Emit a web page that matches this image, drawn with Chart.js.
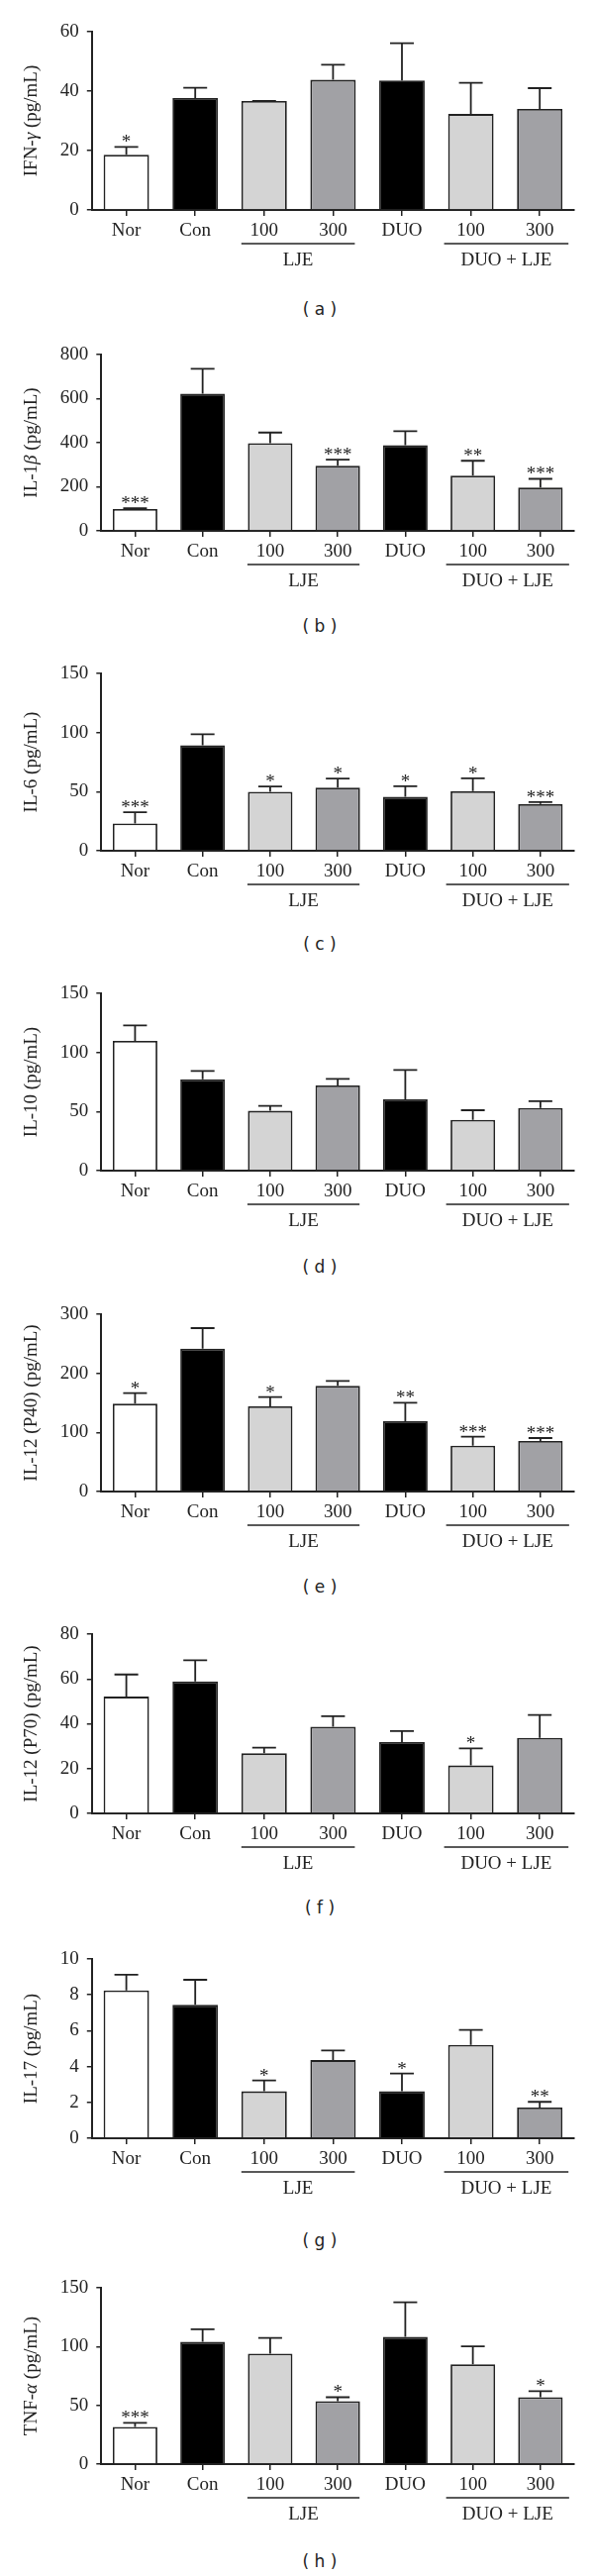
<!DOCTYPE html>
<html>
<head>
<meta charset="utf-8">
<script src="https://cdn.jsdelivr.net/npm/chart.js@4.4.1/dist/chart.umd.min.js"></script>
<style>
    body { margin: 0; background: #fff; }
    #page { position: relative; width: 600px; height: 2601px; background: #fff; overflow: hidden; }
    .panel { position: absolute; left: 0; }
    .caption {
        position: absolute; left: 323px; transform: translateX(-50%);
        font-family: "DejaVu Sans", sans-serif; font-size: 17px; line-height: 20px;
        color: #222; white-space: pre;
    }
</style>
</head>
<body>
<div id="page"></div>
<script>
// categories along the x axis
const categories = ["Nor", "Con", "100", "300", "DUO", "100", "300"]
const groups = [
    { label: "LJE", from: 2, to: 3 },
    { label: "DUO + LJE", from: 5, to: 6 }
]
const barColors = ["#ffffff", "#000000", "#d4d4d4", "#a1a1a5", "#000000", "#d4d4d4", "#a1a1a5"]

// (a) IFN-gamma
const ifnMean = [18.6, 37.7, 36.7, 43.8, 43.6, 32.3, 34.0]
const ifnSd = [2.6, 3.4, 0, 5.1, 12.5, 10.5, 7.0]
const ifnSig = ["*", "", "", "", "", "", ""]

// (b) IL-1beta
const il1bMean = [99, 623, 398, 296, 389, 251, 197]
const il1bSd = [4, 112, 48, 27, 63, 67, 39]
const il1bSig = ["***", "", "", "***", "", "**", "***"]

// (c) IL-6
const il6Mean = [23, 89.3, 49.8, 53.5, 45.6, 50.4, 39.5]
const il6Sd = [9.5, 9.2, 4.5, 7.5, 9.0, 10.9, 1.6]
const il6Sig = ["***", "", "*", "*", "*", "*", "***"]

// (d) IL-10
const il10Mean = [109.8, 77.4, 50.6, 72.1, 60.3, 43.0, 53.1]
const il10Sd = [13.1, 7.0, 4.1, 5.6, 24.9, 8.1, 5.6]
const il10Sig = ["", "", "", "", "", "", ""]

// (e) IL-12 (P40)
const p40Mean = [148.6, 241.9, 144.1, 178.8, 119, 77.7, 85.5]
const p40Sd = [17.9, 34.6, 15.7, 8.4, 31.3, 15.0, 5.0]
const p40Sig = ["*", "", "*", "", "**", "***", "***"]

// (f) IL-12 (P70)
const p70Mean = [52.1, 58.9, 26.8, 38.7, 31.8, 21.4, 33.7]
const p70Sd = [9.9, 9.4, 2.5, 4.7, 4.9, 7.6, 10.2]
const p70Sig = ["", "", "", "", "", "*", ""]

// (g) IL-17
const il17Mean = [8.25, 7.44, 2.62, 4.36, 2.63, 5.21, 1.71]
const il17Sd = [0.87, 1.4, 0.6, 0.54, 0.98, 0.83, 0.32]
const il17Sig = ["", "", "*", "", "*", "", "**"]

// (h) TNF-alpha
const tnfMean = [31.7, 104, 93.9, 53.5, 108.2, 84.9, 56.9]
const tnfSd = [3.3, 10.7, 13.5, 3.4, 29.5, 15.2, 5.1]
const tnfSig = ["***", "", "", "*", "", "", "*"]

const panels = [
    { title: "IFN-γ (pg/mL)", mean: ifnMean, sd: ifnSd, sig: ifnSig, max: 60, step: 20, caption: "( a )" },
    { title: "IL-1β (pg/mL)", mean: il1bMean, sd: il1bSd, sig: il1bSig, max: 800, step: 200, caption: "( b )" },
    { title: "IL-6 (pg/mL)", mean: il6Mean, sd: il6Sd, sig: il6Sig, max: 150, step: 50, caption: "( c )" },
    { title: "IL-10 (pg/mL)", mean: il10Mean, sd: il10Sd, sig: il10Sig, max: 150, step: 50, caption: "( d )" },
    { title: "IL-12 (P40) (pg/mL)", mean: p40Mean, sd: p40Sd, sig: p40Sig, max: 300, step: 100, caption: "( e )" },
    { title: "IL-12 (P70) (pg/mL)", mean: p70Mean, sd: p70Sd, sig: p70Sig, max: 80, step: 20, caption: "( f )" },
    { title: "IL-17 (pg/mL)", mean: il17Mean, sd: il17Sd, sig: il17Sig, max: 10, step: 2, caption: "( g )" },
    { title: "TNF-α (pg/mL)", mean: tnfMean, sd: tnfSd, sig: tnfSig, max: 150, step: 50, caption: "( h )" }
]

// page layout (pixel positions of each panel's top tick, zero line and caption)
const axisTops = [32, 358, 680, 1003, 1327, 1650, 1978, 2310]
const axisZeros = [212, 536, 859, 1182, 1506, 1831, 2159, 2488]
const captionYs = [312, 632, 953, 1279, 1602, 1926, 2262, 2586]

const ink = "#222"
const serif = "'Liberation Serif', 'Times New Roman', serif"
const padTop = 20
const xAxisH = 75
const titlePad = 21
const fontSize = 19

const errorBars = {
    id: "errorBars",
    afterDatasetsDraw(chart, args, opts) {
        const ctx = chart.ctx
        const meta = chart.getDatasetMeta(0)
        const y = chart.scales.y
        ctx.save()
        ctx.strokeStyle = ink
        ctx.lineWidth = 1.8
        ctx.fillStyle = ink
        ctx.font = fontSize + "px " + serif
        ctx.textAlign = "center"
        ctx.textBaseline = "alphabetic"
        opts.mean.forEach((m, i) => {
            const x = meta.data[i].x
            const yTop = y.getPixelForValue(m)
            const yErr = y.getPixelForValue(m + opts.sd[i])
            ctx.beginPath()
            ctx.moveTo(x, yTop)
            ctx.lineTo(x, yErr)
            ctx.moveTo(x - 12, yErr)
            ctx.lineTo(x + 12, yErr)
            ctx.stroke()
            if (opts.sig[i]) ctx.fillText(opts.sig[i], x, yErr + 1)
        })
        ctx.restore()
    }
}

// y title drawn by hand so the greek letter can be italic
const yTitle = {
    id: "yTitle",
    afterDraw(chart, args, opts) {
        const ctx = chart.ctx
        const area = chart.chartArea
        const parts = opts.text.split(/([αβγ])/).filter(s => s.length)
        const fonts = parts.map(s => (/[αβγ]/.test(s) ? "italic " : "") + fontSize + "px " + serif)
        let total = 0
        const widths = parts.map((s, k) => {
            ctx.font = fonts[k]
            const w = ctx.measureText(s).width
            total += w
            return w
        })
        ctx.save()
        ctx.translate(titlePad + fontSize * 0.6, (area.top + area.bottom) / 2)
        ctx.rotate(-Math.PI / 2)
        ctx.fillStyle = ink
        ctx.textBaseline = "middle"
        ctx.textAlign = "left"
        let x = -total / 2
        parts.forEach((s, k) => {
            ctx.font = fonts[k]
            ctx.fillText(s, x, 0)
            x += widths[k]
        })
        ctx.restore()
    }
}

const groupLabels = {
    id: "groupLabels",
    afterDraw(chart) {
        const ctx = chart.ctx
        const x = chart.scales.x
        const base = chart.chartArea.bottom
        ctx.save()
        ctx.strokeStyle = ink
        ctx.lineWidth = 1.5
        ctx.fillStyle = ink
        ctx.font = fontSize + "px " + serif
        ctx.textAlign = "center"
        ctx.textBaseline = "middle"
        groups.forEach((g, k) => {
            const x1 = x.getPixelForValue(g.from) - (k === 0 ? 23 : 27)
            const x2 = x.getPixelForValue(g.to) + (k === 0 ? 22 : 29)
            ctx.beginPath()
            ctx.moveTo(x1, base + 34)
            ctx.lineTo(x2, base + 34)
            ctx.stroke()
            ctx.fillText(g.label, (x1 + x2) / 2, base + 51)
        })
        ctx.restore()
    }
}

const page = document.getElementById("page")

panels.forEach((p, i) => {
    const plotH = axisZeros[i] - axisTops[i]
    const h = padTop + plotH + xAxisH

    const wrap = document.createElement("div")
    wrap.className = "panel"
    wrap.style.top = (axisTops[i] - padTop) + "px"
    const canvas = document.createElement("canvas")
    canvas.width = 600
    canvas.height = h
    wrap.appendChild(canvas)
    page.appendChild(wrap)

    const cap = document.createElement("div")
    cap.className = "caption"
    cap.style.top = (captionYs[i] - 10) + "px"
    cap.textContent = p.caption
    page.appendChild(cap)

    new Chart(canvas, {
        type: "bar",
        data: {
            labels: categories,
            datasets: [{
                data: p.mean,
                backgroundColor: barColors,
                borderColor: ink,
                borderWidth: 1.8,
                categoryPercentage: 1,
                barPercentage: 0.66
            }]
        },
        options: {
            responsive: false,
            animation: false,
            devicePixelRatio: 1,
            layout: { padding: { top: padTop, right: 20, bottom: 0, left: 0 } },
            plugins: {
                legend: { display: false },
                tooltip: { enabled: false },
                errorBars: { mean: p.mean, sd: p.sd, sig: p.sig },
                yTitle: { text: p.title }
            },
            scales: {
                x: {
                    grid: { offset: false, drawOnChartArea: false, tickLength: 6, color: ink, lineWidth: 1.5 },
                    border: { color: ink, width: 2 },
                    ticks: { color: ink, font: { family: serif, size: fontSize }, padding: 4, maxRotation: 0 },
                    afterFit: (scale) => { scale.height = xAxisH }
                },
                y: {
                    min: 0,
                    max: p.max,
                    grid: { drawOnChartArea: false, tickLength: 5, color: ink, lineWidth: 1.5 },
                    border: { color: ink, width: 2 },
                    ticks: { stepSize: p.step, color: ink, font: { family: serif, size: fontSize }, padding: 8 },
                    // keeps the room for the hand drawn title
                    title: {
                        display: true,
                        text: p.title,
                        color: "rgba(0,0,0,0)",
                        font: { family: serif, size: fontSize },
                        padding: { top: titlePad, bottom: 9 }
                    }
                }
            }
        },
        plugins: [errorBars, yTitle, groupLabels]
    })
})
</script>
</body>
</html>
